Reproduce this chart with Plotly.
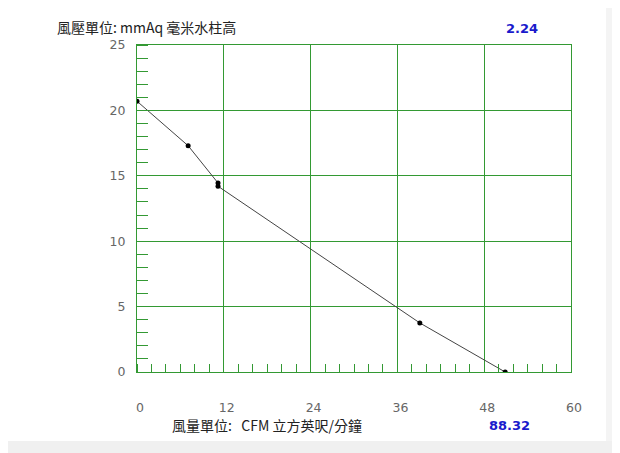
import plotly.graph_objects as go

# Data
flow_cfm = [0, 7.07, 11.2, 11.2, 39.1, 50.9]
pressure_mmaq = [20.7, 17.3, 14.45, 14.2, 3.75, 0]

x_ticks = [0, 12, 24, 36, 48, 60]
y_ticks = [0, 5, 10, 15, 20, 25]

y_title = "風壓單位:&nbsp;mmAq 毫米水柱高"
x_title = "風量單位:&nbsp;&nbsp;&nbsp;CFM 立方英呎/分鐘"
max_pressure_text = "2.24"
max_flow_text = "88.32"

GRID = "#339933"
TICKFONT = dict(family="DejaVu Sans", size=12.5, color="#666666")
CJK = "Noto Sans CJK TC"

fig = go.Figure()
fig.add_trace(go.Scatter(
    x=flow_cfm, y=pressure_mmaq, mode="lines+markers",
    line=dict(color="#444444", width=1),
    marker=dict(color="#000000", size=5),
    showlegend=False, hoverinfo="skip",
))

# page has an 8px body margin, so the figure is 612x445
fig.update_layout(
    width=612, height=445,
    margin=dict(l=129, r=49, t=37, b=81),
    paper_bgcolor="white", plot_bgcolor="white",
    xaxis=dict(
        range=[0, 60], tickvals=x_ticks, ticktext=[str(v) for v in x_ticks],
        showgrid=True, gridcolor=GRID, gridwidth=1,
        showline=True, mirror=True, linecolor=GRID, linewidth=1,
        zeroline=False, ticks="", tickfont=TICKFONT,
        ticklabelstandoff=24, ticklabelshift=3,
        minor=dict(dtick=2, ticks="inside", ticklen=8, tickcolor=GRID, tickwidth=1, showgrid=False),
        fixedrange=True,
    ),
    yaxis=dict(
        range=[0, 25], tickvals=y_ticks, ticktext=[str(v) for v in y_ticks],
        showgrid=True, gridcolor=GRID, gridwidth=1,
        showline=True, mirror=True, linecolor=GRID, linewidth=1,
        zeroline=False, ticks="", tickfont=TICKFONT,
        ticklabelstandoff=8,
        minor=dict(dtick=1, ticks="inside", ticklen=11, tickcolor=GRID, tickwidth=1, showgrid=False),
        fixedrange=True,
    ),
)

def px_x(px):
    return (px - 137) / 434

def px_y(py):
    return (372 - py) / 327

# subtle page frame
fig.add_shape(type="rect", xref="paper", yref="paper",
              x0=px_x(606), x1=px_x(640), y0=px_y(-20), y1=px_y(470),
              fillcolor="#f4f4f4", line_width=0, layer="below")
fig.add_shape(type="rect", xref="paper", yref="paper",
              x0=px_x(-20), x1=px_x(640), y0=px_y(441), y1=px_y(470),
              fillcolor="#f0f0f0", line_width=0, layer="below")

fig.add_annotation(text=y_title, xref="paper", yref="paper",
                   x=px_x(55), y=px_y(27), xanchor="left", yanchor="middle",
                   showarrow=False, font=dict(family=CJK, size=14, color="#222222"))
fig.add_annotation(text="<b>" + max_pressure_text + "</b>", xref="paper", yref="paper",
                   x=px_x(504), y=px_y(28), xanchor="left", yanchor="middle",
                   showarrow=False, font=dict(family="DejaVu Sans", size=13, color="#1a1acc"))
fig.add_annotation(text=x_title, xref="paper", yref="paper",
                   x=px_x(170), y=px_y(425), xanchor="left", yanchor="middle",
                   showarrow=False, font=dict(family=CJK, size=14, color="#222222"))
fig.add_annotation(text="<b>" + max_flow_text + "</b>", xref="paper", yref="paper",
                   x=px_x(487), y=px_y(425), xanchor="left", yanchor="middle",
                   showarrow=False, font=dict(family="DejaVu Sans", size=13, color="#1a1acc"))

fig.write_html("out.html", config=dict(displayModeBar=False))
